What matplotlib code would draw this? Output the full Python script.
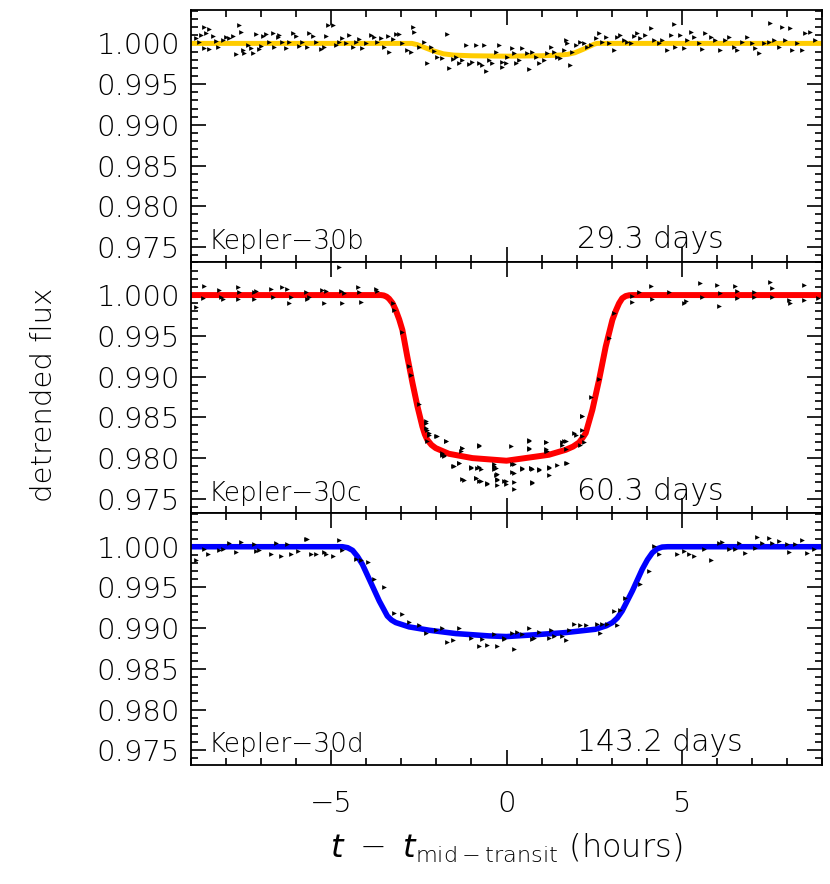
import matplotlib
matplotlib.use("Agg")
import matplotlib.pyplot as plt
from matplotlib.ticker import MultipleLocator, FormatStrFormatter

plt.rcParams["font.family"] = ["DejaVu Sans"]
plt.rcParams["font.weight"] = "light"
plt.rcParams["axes.labelweight"] = "light"
plt.rcParams["mathtext.fontset"] = "dejavusans"

# ---- Kepler-30b (29.3 days) ----
b_pts_x = [-8.62, -8.48, -8.71, -8.57, -8.38, -8.86, -8.76, -8.62, -8.48, -8.29, -8.24, -8.10, -8.00,
           -7.91, -7.81, -7.72, -7.62, -7.57, -7.53, -7.48, -7.38, -7.29, -7.24, -7.15, -7.05, -7.00,
           -6.96, -6.86, -6.77, -6.67, -6.62, -6.53, -6.48, -6.39, -6.29, -6.20, -6.10, -6.01, -5.91,
           -5.82, -5.68, -5.63, -5.53, -5.44, -5.30, -5.20, -5.15, -5.10, -4.96, -4.87, -4.77, -4.68,
           -4.58, -4.49, -4.39, -4.30, -4.20, -4.11, -4.01, -3.87, -3.77, -3.68, -3.58, -3.49, -3.39,
           -3.35, -3.25, -3.16, -3.06, -2.97, -2.83, -2.73, -2.68, -2.64, -2.49, -2.35, -2.26, -2.16,
           -2.07, -1.97, -1.83, -1.69, -1.64, -1.54, -1.45, -1.35, -1.26, -1.16, -1.07, -0.97, -0.88,
           -0.78, -0.69, -0.64, -0.59, -0.50, -0.40, -0.31, -0.21, -0.12, -0.02,
           -0.12, 0.02, 0.17, 0.21, 0.26, 0.36, 0.45, 0.59, 0.64, 0.74, 0.83, 0.93, 1.07, 1.16, 1.26,
           1.35, 1.45, 1.54, 1.64, 1.69, 1.73, 1.80, 1.88, 1.97, 2.11, 2.21, 2.30, 2.40, 2.54, 2.64,
           2.73, 2.83, 2.92, 3.06, 3.16, 3.25, 3.35, 3.44, 3.54, 3.63, 3.73, 3.82, 3.96, 4.11, 4.20,
           4.34, 4.44, 4.58, 4.68, 4.77, 4.82, 4.96, 5.06, 5.15, 5.25, 5.34, 5.48, 5.58, 5.67, 5.82,
           5.96, 6.10, 6.24, 6.34, 6.48, 6.58, 6.72, 6.86, 7.00, 7.10, 7.19, 7.34, 7.48, 7.53, 7.62,
           7.76, 7.86, 7.95, 8.10, 8.14, 8.29, 8.43, 8.52, 8.67, 8.81]
b_pts_y = [1.00204, 1.00172, 1.00102, 1.00123, 1.00090, 1.00061, 1.00020, 0.99939, 0.99926, 1.00033,
           0.99951, 1.00041, 1.00082, 1.00061, 1.00090, 0.99869, 1.00225, 1.00143, 0.99918, 0.99886,
           0.99980, 0.99939, 0.99886, 1.00114, 0.99926, 0.99967, 1.00090, 1.00114, 1.00020, 1.00123,
           0.99959, 1.00082, 1.00102, 1.00020, 0.99939, 1.00020, 1.00123, 1.00090, 0.99967, 1.00020,
           0.99959, 1.00131, 1.00090, 1.00020, 0.99926, 0.99959, 1.00090, 1.00225, 1.00225, 0.99980,
           1.00020, 1.00061, 1.00000, 1.00102, 0.99959, 1.00020, 1.00049, 0.99939, 1.00000, 1.00102,
           1.00082, 1.00020, 1.00061, 0.99959, 1.00090, 0.99898, 1.00049, 1.00114, 1.00114, 1.00008,
           0.99918, 0.99898, 1.00204, 1.00143, 0.99959, 1.00020, 0.99755, 0.99959, 0.99910, 0.99837,
           0.99816, 1.00114, 0.99694, 0.99804, 0.99837, 0.99763, 0.99796, 0.99980, 0.99747, 0.99775,
           0.99980, 0.99755, 0.99734, 0.99980, 0.99661, 0.99796, 0.99755, 0.99898, 0.99980, 0.99714,
           0.99755,
           0.99775, 0.99837, 0.99939, 0.99877, 0.99755, 0.99796, 0.99939, 0.99877, 0.99681, 0.99898,
           0.99837, 0.99755, 0.99796, 0.99877, 0.99951, 0.99898, 0.99837, 0.99816, 0.99918, 1.00041,
           1.00000, 0.99734, 0.99898, 0.99980, 1.00020, 1.00000, 0.99959, 0.99980, 1.00061, 1.00123,
           1.00020, 1.00082, 1.00000, 0.99918, 1.00082, 1.00102, 1.00041, 1.00020, 1.00000, 1.00090,
           1.00123, 1.00061, 1.00102, 1.00184, 1.00041, 1.00000, 1.00041, 0.99918, 1.00102, 1.00237,
           0.99959, 1.00102, 0.99939, 1.00041, 1.00143, 1.00082, 1.00000, 0.99926, 1.00123, 1.00082,
           1.00041, 0.99918, 1.00041, 1.00082, 0.99959, 0.99918, 1.00020, 1.00082, 1.00000, 0.99939,
           0.99877, 1.00000, 1.00020, 1.00245, 1.00041, 0.99959, 1.00204, 1.00041, 1.00184, 0.99918,
           1.00000, 0.99918, 1.00123, 1.00143, 1.00041]
b_fit_x = [-9.0, -2.70, -2.55, -2.40, -2.10, -1.80, -1.50, -1.00, 0.0, 1.00, 1.50, 1.75, 1.95, 2.20,
           2.40, 2.50, 2.58, 9.0]
b_fit_y = [1.0, 1.0, 0.99985, 0.99960, 0.99910, 0.99872, 0.99856, 0.99848, 0.99843, 0.99848, 0.99856,
           0.99866, 0.99885, 0.99930, 0.99970, 0.99990, 1.0, 1.0]

# ---- Kepler-30c (60.3 days) ----
c_pts_x = [-8.86, -8.62, -8.67, -8.19, -8.14, -8.10, -7.67, -7.67, -7.62, -7.19, -7.19, -7.15, -6.72,
           -6.67, -6.39, -6.25, -6.20, -6.15, -5.72, -5.68, -5.63, -5.25, -5.20, -5.15, -4.77, -4.72,
           -4.68, -4.63, -4.25, -4.20, -4.15, -3.73, -3.68, -3.25, -3.21, -2.97, -2.78, -2.73, -2.49,
           -2.30, -2.26, -2.21, -2.02, -1.73, -1.83, -1.78, -1.54, -1.35, -1.26, -1.21, -1.02, -0.88,
           -0.78, -0.78, -0.74, -0.55, -0.36, -0.31, -0.26, -0.07, -0.02,
           -2.30, -2.30, -2.21, -1.97, -2.26, -1.73, -1.83, -1.78, -1.31, -1.26, -0.78, -1.35, -1.50,
           -1.02, -0.83, -0.74, -0.36, -0.31, -0.36, -0.26, -1.26, -0.88, -0.78, -0.55, -0.26, -0.26,
           -0.02, 0.21, 0.21, 0.12, 0.17, 0.17, 0.45, 0.64, 0.64, 0.69, 0.74, 0.74, 0.93, 1.12, 1.12,
           1.16, 1.21, 1.21, 1.45, 1.59, 1.64, 1.69, 1.92, 2.11, 2.16, 2.21, 2.16, 1.69,
           0.21, 0.21, 0.45, 0.69, 0.74, 0.93, 1.21, 0.64, 0.64, 1.12, 1.12, 1.59, 1.69, 1.73, 1.97,
           2.16, 2.16, 2.40, 2.64, 2.92, 3.06, 3.59, 3.59, 3.78, 4.11, 4.16, 4.63, 5.06, 5.11, 5.53,
           5.58, 6.01, 6.05, 6.10, 6.53, 6.58, 6.58, 7.05, 7.05, 7.53, 7.58, 7.58, 8.05, 8.10, 8.48,
           8.48, 8.90]
c_pts_y = [0.99857, 1.00110, 0.99959, 1.00061, 0.99971, 0.99947, 1.00102, 0.99947, 1.00041, 1.00041,
           0.99947, 1.00053, 1.00069, 0.99980, 1.00102, 1.00069, 0.99906, 0.99980, 1.00041, 0.99947,
           0.99980, 1.00061, 0.99898, 1.00053, 1.00347, 1.00053, 0.99906, 1.00020, 1.00102, 1.00041,
           0.99918, 1.00069, 1.00053, 0.99898, 0.99816, 0.99551, 0.99130, 0.99020, 0.98664, 0.98435,
           0.98346, 0.98284, 0.98264, 0.98203, 0.98039, 0.98019, 0.97896, 0.97937, 0.98121, 0.97725,
           0.97888, 0.97753, 0.98141, 0.97888, 0.97712, 0.97684, 0.97896, 0.97794, 0.97733, 0.97712,
           0.97684,
           0.98452, 0.98370, 0.98309, 0.98268, 0.98203, 0.98203, 0.98064, 0.98031, 0.98084, 0.98125,
           0.98154, 0.97941, 0.97900, 0.97880, 0.97880, 0.97868, 0.97921, 0.97880, 0.97859, 0.97798,
           0.97737, 0.97757, 0.97717, 0.97688, 0.97737, 0.97664, 0.97717, 0.97704, 0.97623, 0.98145,
           0.97921, 0.97827, 0.97868, 0.98219, 0.98125, 0.97880, 0.97859, 0.97704, 0.97859, 0.98191,
           0.98109, 0.98080, 0.97880, 0.97794, 0.97908, 0.98154, 0.98207, 0.97941, 0.98301, 0.98154,
           0.98268, 0.98195, 0.98513, 0.98113,
           0.97929, 0.97815, 0.97876, 0.97876, 0.97692, 0.97855, 0.97888, 0.98203, 0.98109, 0.98190,
           0.98080, 0.98190, 0.98203, 0.97937, 0.98284, 0.98346, 0.98509, 0.98746, 0.98967, 0.99469,
           0.99775, 0.99988, 0.99918, 1.00041, 1.00110, 0.99947, 1.00041, 0.99906, 0.99931, 1.00143,
           0.99971, 1.00123, 0.99865, 1.00020, 1.00110, 0.99959, 1.00053, 1.00041, 0.99971, 1.00163,
           1.00082, 0.99971, 0.99939, 0.99906, 1.00123, 0.99939, 0.99959]
c_fit_x = [-9.0, -3.58, -3.50, -3.42, -3.35, -3.25, -3.16, -3.06, -2.97, -2.83, -2.68, -2.54, -2.40,
           -2.33, -2.26, -2.14, -2.02, -1.80, -1.64, -0.97, 0.0, 1.21, 1.69, 1.90, 2.07, 2.16, 2.26,
           2.35, 2.45, 2.64, 2.83, 2.93, 3.02, 3.12, 3.21, 3.30, 3.40, 3.50, 3.59, 9.0]
c_fit_y = [1.0, 1.0, 0.99995, 0.99980, 0.99955, 0.99900, 0.99816, 0.99700, 0.99571, 0.99244, 0.98917,
           0.98632, 0.98386, 0.98290, 0.98223, 0.98160, 0.98121, 0.98080, 0.98051, 0.97998, 0.97966,
           0.98039, 0.98100, 0.98140, 0.98190, 0.98240, 0.98305, 0.98440, 0.98591, 0.98958, 0.99367,
           0.99540, 0.99694, 0.99810, 0.99898, 0.99960, 0.99988, 0.99998, 1.0, 1.0]

# ---- Kepler-30d (143.2 days) ----
d_pts_x = [-8.86, -8.62, -8.52, -8.19, -8.10, -7.91, -7.72, -7.57, -7.19, -7.15, -7.05, -6.72, -6.58,
           -6.43, -6.25, -6.15, -5.96, -5.72, -5.68, -5.58, -5.44, -5.20, -5.15, -4.96, -4.77, -4.68,
           -4.30, -4.15, -3.96, -3.77, -3.49, -3.21, -2.97, -2.78, -2.49, -2.30, -2.02, -1.83, -1.69,
           -1.54, -1.35, -1.02, -0.78, -0.69, -0.55, -0.36, -0.26, -0.07,
           -0.07, 0.21, 0.17, 0.31, 0.45, 0.64, 0.74, 0.78, 0.93, 1.21, 1.26, 1.35, 1.59, 1.69, 1.78,
           1.92, 2.11, 2.26, 2.59, 2.68, 2.73, 2.87, 3.16, 3.06, 3.25, 3.38, 3.82, 4.06, 4.20, 4.34,
           4.87, 5.06, 5.20, 5.34, 5.63, 5.82, 6.05, 6.15, 6.34, 6.53, 6.62, 6.81, 7.10, 7.14, 7.29,
           7.48, 7.58, 7.76, 8.00, 8.05, 8.24, 8.43, 8.57, 8.76]
d_pts_y = [0.99833, 0.99967, 0.99914, 0.99955, 0.99967, 1.00049, 0.99939, 1.00061, 1.00037, 0.99947,
           0.99955, 0.99906, 1.00049, 0.99886, 1.00037, 0.99906, 0.99947, 1.00090, 1.00090, 0.99914,
           0.99914, 0.99939, 0.99914, 0.99886, 1.00078, 0.99955, 0.99845, 0.99833, 0.99816, 0.99600,
           0.99506, 0.99191, 0.99171, 0.99081, 0.99040, 0.98946, 0.98975, 0.98999, 0.98836, 0.98852,
           0.98999, 0.98885, 0.98783, 0.98864, 0.98795, 0.98934, 0.98783, 0.98885,
           0.98864, 0.98742, 0.98946, 0.98958, 0.98934, 0.98999, 0.98864, 0.98877, 0.98958, 0.98885,
           0.98975, 0.98905, 0.98905, 0.98852, 0.98975, 0.99056, 0.99036, 0.99040, 0.99048, 0.98946,
           0.99048, 0.99056, 0.99040, 0.99212, 0.99220, 0.99375, 0.99538, 0.99702, 1.00008, 0.99914,
           0.99906, 0.99947, 0.99914, 0.99886, 0.99967, 0.99833, 1.00049, 1.00061, 0.99967, 0.99967,
           1.00041, 0.99926, 0.99980, 1.00118, 1.00049, 1.00102, 1.00049, 1.00069, 1.00037, 0.99939,
           1.00037, 1.00078, 0.99926, 0.99967]
d_fit_x = [-9.0, -4.68, -4.53, -4.39, -4.25, -4.11, -3.87, -3.63, -3.50, -3.40, -3.28, -3.16, -2.78,
           -2.21, -1.45, -0.50, 0.0, 0.74, 1.69, 2.54, 2.85, 3.02, 3.16, 3.30, 3.59, 3.87, 4.02, 4.16,
           4.30, 4.44, 4.60, 9.0]
d_fit_y = [1.0, 1.0, 0.99988, 0.99955, 0.99880, 0.99783, 0.99559, 0.99334, 0.99230, 0.99150, 0.99100,
           0.99069, 0.99016, 0.98975, 0.98934, 0.98905, 0.98897, 0.98917, 0.98946, 0.98987, 0.99030,
           0.99069, 0.99125, 0.99212, 0.99457, 0.99722, 0.99840, 0.99926, 0.99975, 0.99996, 1.0, 1.0]

names = ["Kepler\u221230b", "Kepler\u221230c", "Kepler\u221230d"]
periods = ["29.3 days", "60.3 days", "143.2 days"]
fit_colors = ["#FFCC00", "#FF0000", "#0000FF"]
fit_widths = [3.6, 4.3, 4.0]

panels = [
    (b_pts_x, b_pts_y, b_fit_x, b_fit_y),
    (c_pts_x, c_pts_y, c_fit_x, c_fit_y),
    (d_pts_x, d_pts_y, d_fit_x, d_fit_y),
]

fig, axes = plt.subplots(3, 1, figsize=(8.3, 8.84), dpi=100, sharex=True)
fig.subplots_adjust(left=191 / 830, right=822 / 830, top=1 - 10 / 884, bottom=1 - 765 / 884, hspace=0)

for i, (ax, (px, py, fx, fy)) in enumerate(zip(axes, panels)):
    ax.plot(fx, fy, color=fit_colors[i], lw=fit_widths[i], zorder=2,
            solid_capstyle="butt", solid_joinstyle="round")
    ax.plot(px, py, linestyle="none", marker=">", ms=3.4, color="black", mew=0, zorder=3)
    ax.set_xlim(-9, 9)
    ax.set_ylim(0.9732, 1.0041)
    ax.yaxis.set_major_locator(MultipleLocator(0.005))
    ax.yaxis.set_minor_locator(MultipleLocator(0.001))
    ax.yaxis.set_major_formatter(FormatStrFormatter("%.3f"))
    ax.xaxis.set_major_locator(MultipleLocator(5))
    ax.xaxis.set_minor_locator(MultipleLocator(1))
    ax.tick_params(which="both", direction="in", top=True, right=True, width=1.2, labelsize=21,
                   labelcolor="black")
    ax.tick_params(which="major", length=11, pad=8)
    ax.tick_params(which="minor", length=5)
    for s in ax.spines.values():
        s.set_linewidth(1.3)
    ax.text(0.027, 0.03, names[i], transform=ax.transAxes, fontsize=19, ha="left", va="bottom")
    ax.text(0.612, 0.03, periods[i], transform=ax.transAxes, fontsize=21.5, ha="left", va="bottom")

axes[-1].tick_params(axis="x", which="major", pad=18)
axes[-1].set_xlabel(r"$\mathit{t}\ -\ \mathit{t}_{\mathrm{mid-transit}}$ (hours)", fontsize=23,
                    labelpad=10, fontweight="light")
fig.text(0.053, 1 - 395 / 884, "detrended flux", rotation=90, fontsize=21, ha="center", va="center")

fig.savefig("out.png", dpi=100)
